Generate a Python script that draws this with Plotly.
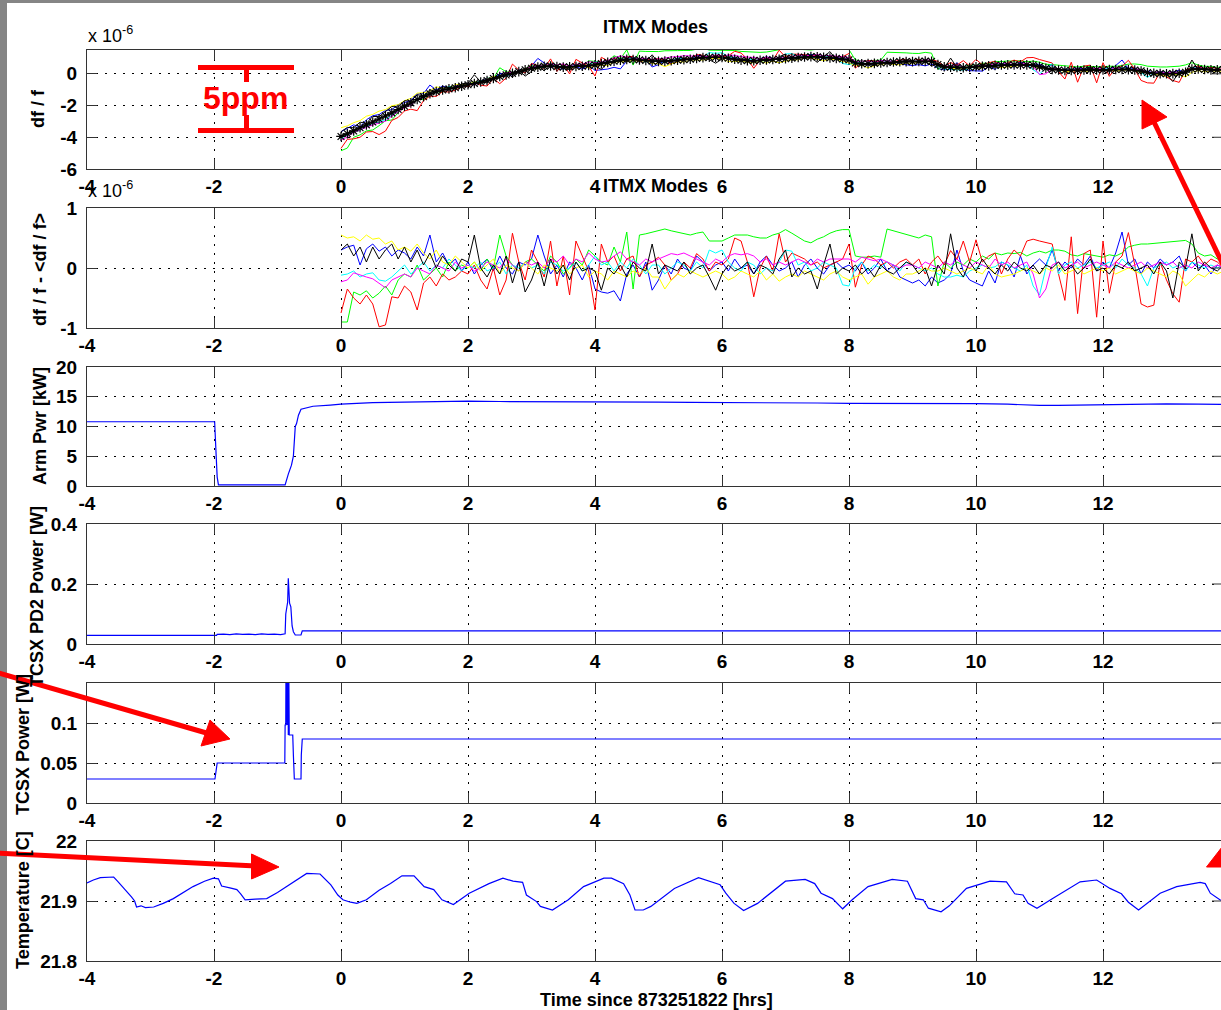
import plotly.graph_objects as go

# ---------------------------------------------------------------------------
# Data
# ---------------------------------------------------------------------------
tick_hours = [-4, -2, 0, 2, 4, 6, 8, 10, 12]
tick_hour_text = ["-4", "-2", "0", "2", "4", "6", "8", "10", "12"]

# ITMX mode frequencies are sampled every 0.1 h after lock acquisition
mode_hours = [round(0.1 * k, 1) for k in range(141)]

# mean fractional frequency shift of the modes (units of 1e-6)
mode_mean = [
    -3.95, -3.78, -3.60, -3.40, -3.22, -3.04, -2.85, -2.66, -2.46, -2.25,
    -2.04, -1.83, -1.62, -1.44, -1.26, -1.12, -1.02, -0.95, -0.88, -0.78,
    -0.69, -0.61, -0.52, -0.42, -0.30, -0.17, -0.07, 0.03, 0.14, 0.25,
    0.35, 0.42, 0.48, 0.49, 0.45, 0.42, 0.44, 0.46, 0.48, 0.52,
    0.56, 0.64, 0.72, 0.79, 0.86, 0.91, 0.90, 0.88, 0.84, 0.80,
    0.78, 0.80, 0.82, 0.86, 0.89, 0.92, 0.97, 1.02, 1.04, 1.04,
    1.03, 0.98, 0.92, 0.86, 0.83, 0.83, 0.85, 0.87, 0.90, 0.92,
    0.95, 0.99, 1.03, 1.06, 1.08, 1.07, 1.04, 1.00, 0.97, 0.93,
    0.88, 0.68, 0.63, 0.64, 0.66, 0.68, 0.71, 0.74, 0.77, 0.77,
    0.77, 0.78, 0.80, 0.78, 0.58, 0.44, 0.42, 0.40, 0.38, 0.40,
    0.44, 0.47, 0.50, 0.53, 0.55, 0.56, 0.56, 0.56, 0.56, 0.55,
    0.45, 0.35, 0.28, 0.24, 0.21, 0.21, 0.23, 0.24, 0.25, 0.25,
    0.25, 0.26, 0.27, 0.27, 0.26, 0.24, 0.18, 0.08, 0.03, 0.01,
    0.00, 0.01, 0.03, 0.10, 0.30, 0.30, 0.27, 0.25, 0.25, 0.26,
    0.27,
]

# deviation of each mode from the mean (units of 1e-8)
dev_blue = [
    30, 35, 38, 5, 32, 40, 28, 35, 20, 30,
    25, 15, 35, 20, 55, 10, 25, 5, 15, -5,
    10, -10, 5, 15, -5, 20, 0, -10, 10, 5,
    15, 55, 20, -10, 5, -15, 10, 0, -20, 5,
    -35, -40, -42, -38, -55, -10, 5, -15, 10, -37,
    -20, 5, -10, 15, 0, -5, 20, 10, -5, 5,
    10, -5, 15, 0, 5, -10, 10, 20, 5, -5,
    0, 10, -15, 5, 15, 0, -10, 5, 10, 0,
    5, -5, 10, -10, 0, 15, -5, 5, -15, -20,
    -25, -20, -30, -15, -25, -20, -10, 30, -5, -20,
    -25, -30, -5, -25, 10, 5, -15, 20, -10, 5,
    15, 5, 30, -5, 10, 0, 15, 5, 20, -5,
    10, 0, 25, 60, 5, 15, -10, 10, 0, 15,
    5, 10, 20, -5, 10, 0, 5, -10, 5, 0,
    5,
]
dev_green = [
    -90, -90, -40, -45, -38, -50, -42, -30, -45, -20,
    -10, -15, 5, -20, -10, 0, -15, 10, -5, 5,
    0, 10, -5, 15, 0, 55, 20, 5, -5, 10,
    15, 5, -5, 20, 10, -10, 0, 15, 5, 30,
    20, 10, 5, 35, 10, 60, -35, 55, 57, 60,
    62, 65, 62, 60, 58, 55, 58, 60, 45, 45,
    45, 50, 55, 55, 55, 52, 50, 50, 55, 58,
    64, 58, 52, 45, 42, 48, 52, 58, 62, 64,
    64, 20, 18, 18, 20, 18, 65, 62, 58, 55,
    52, 50, 55, 52, -30, 10, 0, 10, 5, 15,
    10, 20, 15, 25, 22, 25, 24, 26, 20, 25,
    28, 25, 30, 30, 28, 22, 20, 24, 22, 20,
    18, 22, 20, 25, 35, 38, 40, 40, 41, 42,
    43, 44, 45, 46, 40, 25, 20, 22, 15, 20,
    20,
]
dev_red = [
    -75, -35, -50, -60, -45, -60, -98, -95, -48, -50,
    -30, -40, -70, -25, -15, -30, -10, -20, -15, -5,
    -10, 5, -20, -35, 0, -45, -20, 58, 10, -20,
    30, 10, -15, 45, -30, 20, -45, 45, 20, -5,
    -70, 40, 10, 20, -5, 15, 20, -15, 5, 10,
    18, 5, -20, -10, 10, 0, 24, 15, -5, 10,
    5, 15, 50, 45, 10, -48, 0, 20, -5, 57,
    10, 25, 20, 15, 5, 10, 0, 5, 10, 15,
    40, -32, 5, 20, 15, 5, 10, 0, 10, 15,
    5, 15, -10, 10, 20, 5, 29, 15, 45, 10,
    47, 10, 20, 25, -10, 15, 30, 20, 45, 48,
    45, 42, 40, -10, -54, 52, -76, 24, 30, -82,
    45, -42, 10, 20, 59, 5, -60, -65, -62, 10,
    -20, -43, -57, 15, 10, 20, 5, 15, 10, 0,
    5,
]
dev_cyan = [
    -12, -10, -5, -15, -10, -8, -20, -22, -15, -5,
    5, -10, 0, 10, -5, 5, 0, 15, 5, -5,
    5, 0, 10, -5, 0, 10, -10, 5, 0, 10,
    0, 5, -10, 10, 5, -5, 0, 10, -5, 5,
    20, 5, 10, -5, 10, 0, 15, 5, -10, 5,
    5, -10, 0, 10, 5, -5, 10, 0, 30, 25,
    30, 10, 0, -5, 10, 5, -10, 0, -5, 10,
    30, 28, 5, 10, -5, 0, 10, 5, 0, -28,
    -30, 0, 10, -5, 5, 0, 10, 5, -5, 10,
    5, 0, -5, 0, -10, -15, -15, -12, -15, -5,
    0, 5, 0, 2, 10, 5, 0, -5, 5, -30,
    -45, 0, 35, -10, 5, 10, 0, 5, 10, 0,
    5, 10, 0, 15, 5, 0, -10, -30, 0, 5,
    10, 0, 5, -5, 10, 5, 0, 5, 0, 5,
    0,
]
dev_magenta = [
    -23, -20, -8, -12, -15, -18, -25, -33, -20, -15,
    -10, -15, 0, -5, -10, 5, 0, -5, 10, 0,
    5, -5, 0, 10, 5, 0, 15, 5, -5, 10,
    5, 10, 0, 15, 10, 20, 5, 15, 10, 25,
    15, 10, 12, 20, 27, 15, 10, 5, 15, 10,
    15, 20, 24, 22, 25, 20, 15, 10, 5, 15,
    10, 20, 24, 22, 24, 20, 10, 15, 5, 10,
    5, 10, 15, 10, 5, 15, 10, 15, 15, 15,
    15, 10, 18, 15, 12, 15, 10, 5, 0, 5,
    5, 0, 10, 5, 0, 10, 5, 15, 5, 0,
    10, 5, 0, 15, 5, 10, 0, 5, 10, -10,
    -50, -35, 5, 10, 0, 5, 10, 0, 5, 10,
    5, 0, 10, 5, 0, 5, 10, 0, 5, 10,
    5, 10, 0, 5, 0, 10, 5, 0, 5, 0,
    5,
]
dev_yellow = [
    55, 50, 52, 45, 55, 48, 50, 40, 45, 30,
    35, 28, 40, 25, 15, 30, 10, 5, 20, 10,
    0, 10, -5, 5, 15, -10, 5, 0, -5, 10,
    0, -10, 5, 0, -5, 5, -10, 0, 5, -15,
    -5, -10, -20, -5, -10, -15, -5, -10, 0, -15,
    -15, -35, -20, -10, -15, -5, -10, -15, -10, -5,
    -10, -20, -15, -5, -10, -15, -5, -20, -10, -22,
    -15, -10, -15, -5, -10, -15, -20, -10, -5, -15,
    -20, -15, -10, -27, -15, -10, -5, -15, -20, -10,
    -10, -5, 0, -5, -5, 0, -5, -10, -5, 0,
    -5, -10, 5, -10, -15, -12, -10, -5, 0, -5,
    -10, 0, -5, 5, -10, -5, 0, -10, -5, 0,
    -5, 0, -10, -5, 0, -5, -10, 0, -5, -10,
    -15, -5, -10, -30, -20, -10, -15, -5, -10, -5,
    -5,
]
dev_black = [
    30, 40, 20, 35, 10, 35, 15, 30, 40, 15,
    35, 10, 30, 5, 25, 0, 20, 5, -5, 15,
    10, 55, 0, -15, 5, -10, 20, -25, 10, -40,
    -20, 10, -30, 15, -10, 5, -20, 10, -5, 0,
    -5, -37, 0, -10, 5, -15, 10, 0, -5, 40,
    -10, 5, 0, -5, 10, -10, 0, 5, -15, -37,
    -10, 5, -5, 0, 10, -10, 5, 0, -10, 15,
    30, -15, 0, -10, -5, -35, 5, 40, -10, 0,
    -5, 5, -10, 0, -15, 5, -5, -10, 0, 10,
    5, -10, 0, -30, 5, -10, 57, 0, -15, 10,
    -5, 15, 0, -10, 5, -5, 10, 0, -5, 5,
    -10, 5, 0, 10, -5, 5, -10, 0, 15, -5,
    0, -10, 5, 0, 10, -5, 0, 5, -10, 10,
    -5, -50, 10, 0, 57, -5, 10, 0, -5, 5,
    0,
]

# arm cavity power (kW)
arm_hours = [
    -4.0, -1.99, -1.97, -1.95, -1.93, -1.5, -1.0, -0.88, -0.83, -0.78,
    -0.75, -0.72, -0.70, -0.67, -0.63, -0.57, -0.44, -0.17, 0.0, 0.5,
    1.0, 1.5, 2.0, 2.5, 3.0, 3.5, 4.0, 4.5, 5.0, 5.5,
    6.0, 6.5, 7.0, 7.5, 8.0, 8.5, 9.0, 9.5, 10.0, 10.5,
    10.8, 11.0, 11.3, 11.6, 12.0, 12.5, 13.0, 13.5, 14.0,
]
arm_kw = [
    10.8, 10.8, 6.0, 1.5, 0.2, 0.2, 0.2, 0.2, 2.0, 3.5,
    5.0, 10.0, 10.5, 11.9, 12.9, 13.1, 13.4, 13.6, 13.75, 14.0,
    14.1, 14.15, 14.25, 14.2, 14.2, 14.15, 14.1, 14.15, 14.1, 14.05,
    14.05, 14.0, 13.95, 13.95, 13.9, 13.9, 13.85, 13.85, 13.85, 13.75,
    13.6, 13.55, 13.55, 13.6, 13.7, 13.7, 13.8, 13.75, 13.7,
]

# TCSX PD2 power (W)
pd2_hours = [
    -4.0, -1.96, -1.95, -1.85, -1.75, -1.65, -1.55, -1.45, -1.35, -1.25,
    -1.15, -1.05, -0.95, -0.89, -0.88, -0.87, -0.85, -0.84, -0.83, -0.82,
    -0.81, -0.79, -0.77, -0.75, -0.72, -0.63, -0.62, -0.61, 14.0,
]
pd2_watts = [
    0.029, 0.029, 0.032, 0.033, 0.031, 0.034, 0.032, 0.033, 0.031, 0.034,
    0.032, 0.033, 0.031, 0.033, 0.034, 0.10, 0.136, 0.14, 0.219, 0.15,
    0.136, 0.124, 0.06, 0.041, 0.030, 0.030, 0.038, 0.044, 0.044,
]

# TCSX laser power (W)
tcs_hours = [
    -4.0, -1.985, -1.95, -0.885, -0.88, -0.87, -0.865, -0.86, -0.85, -0.845,
    -0.835, -0.83, -0.825, -0.815, -0.80, -0.76, -0.75, -0.74, -0.735, -0.63,
    -0.625, -0.61, 14.0,
]
tcs_watts = [
    0.030, 0.030, 0.050, 0.050, 0.0975, 0.0975, 0.20, 0.0975, 0.0975, 0.20,
    0.20, 0.085, 0.20, 0.085, 0.085, 0.085, 0.06, 0.035, 0.030, 0.030,
    0.06, 0.080, 0.080,
]

# ITMX temperature (C)
temp_hours = [
    -4.00, -3.90, -3.79, -3.58, -3.52, -3.45, -3.38, -3.30, -3.25, -3.22,
    -3.15, -3.08, -2.95, -2.80, -2.64, -2.50, -2.33, -2.15, -2.01, -1.93,
    -1.90, -1.88, -1.75, -1.64, -1.58, -1.51, -1.35, -1.17, -1.00, -0.86,
    -0.70, -0.54, -0.33, -0.25, -0.16, -0.05, 0.03, 0.15, 0.25, 0.40,
    0.60, 0.78, 0.96, 1.15, 1.31, 1.46, 1.59, 1.77, 2.02, 2.33,
    2.55, 2.71, 2.86, 2.92, 3.08, 3.14, 3.33, 3.58, 3.82, 4.14,
    4.26, 4.45, 4.55, 4.63, 4.76, 4.88, 5.25, 5.63, 5.81, 5.97,
    6.06, 6.19, 6.34, 6.56, 7.00, 7.31, 7.46, 7.56, 7.74, 7.90,
    8.05, 8.30, 8.68, 8.92, 9.05, 9.17, 9.25, 9.45, 9.58, 9.85,
    10.22, 10.48, 10.61, 10.74, 10.82, 10.96, 11.22, 11.64, 11.90, 12.11,
    12.29, 12.40, 12.56, 12.90, 13.16, 13.53, 13.61, 13.69, 13.84, 14.00,
]
temp_c = [
    21.930, 21.935, 21.939, 21.940, 21.933, 21.925, 21.916, 21.907, 21.900, 21.890,
    21.892, 21.889, 21.890, 21.896, 21.904, 21.913, 21.924, 21.933, 21.938, 21.937,
    21.930, 21.925, 21.922, 21.919, 21.912, 21.902, 21.903, 21.904, 21.914, 21.924,
    21.935, 21.946, 21.945, 21.937, 21.927, 21.910, 21.902, 21.898, 21.896, 21.902,
    21.918, 21.929, 21.942, 21.942, 21.924, 21.919, 21.902, 21.894, 21.913, 21.929,
    21.938, 21.933, 21.931, 21.910, 21.899, 21.891, 21.885, 21.902, 21.924, 21.938,
    21.938, 21.929, 21.910, 21.885, 21.885, 21.891, 21.921, 21.939, 21.933, 21.927,
    21.913, 21.896, 21.884, 21.896, 21.933, 21.936, 21.929, 21.913, 21.904, 21.887,
    21.902, 21.924, 21.936, 21.933, 21.904, 21.902, 21.888, 21.882, 21.892, 21.921,
    21.933, 21.932, 21.912, 21.910, 21.896, 21.888, 21.905, 21.932, 21.935, 21.921,
    21.912, 21.898, 21.885, 21.913, 21.924, 21.931, 21.929, 21.913, 21.902, 21.897,
]

mode_devs = [dev_blue, dev_green, dev_red, dev_cyan, dev_magenta, dev_yellow, dev_black]
for d in mode_devs + [mode_mean]:
    assert len(d) == len(mode_hours)

# ---------------------------------------------------------------------------
# Figure geometry (pixels)
# ---------------------------------------------------------------------------
W, H = 1221, 1010
AX_LEFT = 87
X_RANGE = [-4, (W - 341) / 63.5]
panel_top = [50, 208, 367, 524, 683, 841]
panel_bot = [169, 328, 486, 644, 803, 961]

y_ranges = [[-6, 1.5], [-1, 1], [0, 20], [0, 0.4], [0, 0.15], [21.8, 22]]
y_ticks = [
    [-6, -4, -2, 0],
    [-1, 0, 1],
    [0, 5, 10, 15, 20],
    [0, 0.2, 0.4],
    [0, 0.05, 0.1],
    [21.8, 21.9, 22],
]
y_tick_text = [
    ["-6", "-4", "-2", "0"],
    ["-1", "0", "1"],
    ["0", "5", "10", "15", "20"],
    ["0", "0.2", "0.4"],
    ["0", "0.05", "0.1"],
    ["21.8", "21.9", "22"],
]

FONT = "Liberation Sans, Arial, Helvetica, sans-serif"
AXIS_COLOR = "#333333"
GRID_DASH = "2px,7px"

mode_colors = ["#0000ff", "#00ff00", "#ff0000", "#00ffff", "#ff00ff", "#ffff00", "#000000"]


def fx(p):
    return p / W


def fy(p):
    return 1 - p / H


fig = go.Figure()

# panel 1: df/f of each mode and the mean
for dev, col in zip(mode_devs, mode_colors):
    fig.add_trace(go.Scatter(
        x=mode_hours, y=[m + 0.01 * d for m, d in zip(mode_mean, dev)],
        mode="lines", line=dict(color=col, width=1),
        xaxis="x", yaxis="y", hoverinfo="skip"))
fig.add_trace(go.Scatter(
    x=mode_hours, y=mode_mean, mode="lines+markers",
    line=dict(color="#000000", width=1.5),
    marker=dict(symbol="asterisk", size=8, color="#000000",
                line=dict(color="#000000", width=1.2)),
    xaxis="x", yaxis="y", hoverinfo="skip"))

# panel 2: deviation from mean
for dev, col in zip(mode_devs, mode_colors):
    fig.add_trace(go.Scatter(
        x=mode_hours, y=[0.01 * d for d in dev],
        mode="lines", line=dict(color=col, width=1),
        xaxis="x2", yaxis="y2", hoverinfo="skip"))

# panels 3-6: single blue traces
for n, (tx, ty) in enumerate([(arm_hours, arm_kw), (pd2_hours, pd2_watts),
                              (tcs_hours, tcs_watts), (temp_hours, temp_c)], start=3):
    fig.add_trace(go.Scatter(
        x=tx, y=ty, mode="lines", line=dict(color="#0000ff", width=1.2),
        xaxis=f"x{n}", yaxis=f"y{n}", hoverinfo="skip"))

layout = dict(
    width=W, height=H, autosize=False,
    margin=dict(l=0, r=0, t=0, b=0, pad=0),
    paper_bgcolor="white", plot_bgcolor="white",
    showlegend=False,
    font=dict(family=FONT, color="black"),
)

for i in range(6):
    n = "" if i == 0 else str(i + 1)
    layout[f"xaxis{n}"] = dict(
        domain=[fx(AX_LEFT), 1.0], range=X_RANGE, anchor=f"y{n}",
        tickmode="array", tickvals=tick_hours, ticktext=tick_hour_text,
        ticks="inside", ticklen=10, tickwidth=1, tickcolor=AXIS_COLOR,
        showline=True, linecolor=AXIS_COLOR, linewidth=1, mirror="ticks",
        showgrid=True, gridcolor="#000000", gridwidth=1, griddash=GRID_DASH,
        zeroline=False, automargin=False, ticklabelstandoff=0,
        tickfont=dict(family=FONT, size=19, color="black", weight="bold"),
    )
    layout[f"yaxis{n}"] = dict(
        domain=[fy(panel_bot[i]), fy(panel_top[i])], range=y_ranges[i],
        anchor=f"x{n}",
        tickmode="array", tickvals=y_ticks[i], ticktext=y_tick_text[i],
        ticks="inside", ticklen=10, tickwidth=1, tickcolor=AXIS_COLOR,
        showline=True, linecolor=AXIS_COLOR, linewidth=1, mirror=False,
        showgrid=True, gridcolor="#000000", gridwidth=1, griddash=GRID_DASH,
        zeroline=False, automargin=False, ticklabelstandoff=5,
        tickfont=dict(family=FONT, size=19, color="black", weight="bold"),
    )

shapes = []
# right-hand tick stubs of each panel (the right frame sits just past the edge)
for i in range(6):
    n = "" if i == 0 else str(i + 1)
    lo, hi = y_ranges[i]
    for v in y_ticks[i]:
        if lo < v < hi:
            shapes.append(dict(type="line", xref="paper", yref=f"y{n}",
                               x0=fx(W - 9), x1=1.0, y0=v, y1=v,
                               line=dict(color=AXIS_COLOR, width=1), layer="above"))

# window border
BORDER = "#858585"
shapes.append(dict(type="rect", xref="paper", yref="paper", x0=0, x1=1,
                   y0=fy(3), y1=1, fillcolor=BORDER, line=dict(width=0), layer="above"))
shapes.append(dict(type="rect", xref="paper", yref="paper", x0=0, x1=fx(7),
                   y0=0, y1=1, fillcolor=BORDER, line=dict(width=0), layer="above"))

RED = "#ff0000"


def red_line(x0, y0, x1, y1, w=5):
    return dict(type="line", xref="paper", yref="paper",
                x0=fx(x0), y0=fy(y0), x1=fx(x1), y1=fy(y1),
                line=dict(color=RED, width=w), layer="above")


def red_tri(pts):
    path = "M " + " L ".join(f"{fx(a):.5f},{fy(b):.5f}" for a, b in pts) + " Z"
    return dict(type="path", xref="paper", yref="paper", path=path,
                fillcolor=RED, line=dict(color=RED, width=1), layer="above")


# 5 ppm scale bar
shapes += [
    red_line(198, 67.5, 294, 67.5),
    red_line(198, 130.5, 294, 130.5),
    red_line(246.5, 67.5, 246.5, 82),
    red_line(246.5, 115, 246.5, 130.5),
]
# arrows
shapes += [
    red_line(1154, 122, 1245, 310),
    red_tri([(1142, 100), (1142, 129), (1167, 117)]),
    red_line(-5, 672, 210, 734),
    red_tri([(230, 739), (201, 746), (210, 720)]),
    red_line(-5, 853, 256, 866),
    red_tri([(279, 867), (251.5, 854), (251.5, 879)]),
    red_tri([(1206.5, 867), (1236, 829), (1236, 867)]),
]
layout["shapes"] = shapes

annotations = []


def label(text, x, y, size=18, angle=0, xanchor="center", color="black", bold=True):
    t = f"<b>{text}</b>" if bold else text
    annotations.append(dict(text=t, x=fx(x), y=fy(y), xref="paper", yref="paper",
                            showarrow=False, textangle=angle, xanchor=xanchor,
                            yanchor="middle",
                            font=dict(family=FONT, size=size, color=color)))


label("ITMX Modes", 655, 27, size=18)
label("ITMX Modes", 655, 186, size=18)
label("x 10<sup>-6</sup>", 86, 34, size=18, xanchor="left", bold=False)
label("x 10<sup>-6</sup>", 86, 190, size=18, xanchor="left", bold=False)
label("Time since 873251822 [hrs]", 656, 1000, size=18)
label("df / f", 38, 109, angle=-90)
label("df / f - &lt;df / f&gt;", 40, 270, angle=-90)
label("Arm Pwr [kW]", 40, 426, angle=-90)
label("TCSX PD2 Power [W]", 37, 597, angle=-90)
label("TCSX Power [W]", 23, 745, angle=-90)
label("Temperature [C]", 23, 900, angle=-90)
label("5ppm", 245, 98, size=32, color=RED)

layout["annotations"] = annotations
fig.update_layout(**layout)

fig.write_html("out.html")
